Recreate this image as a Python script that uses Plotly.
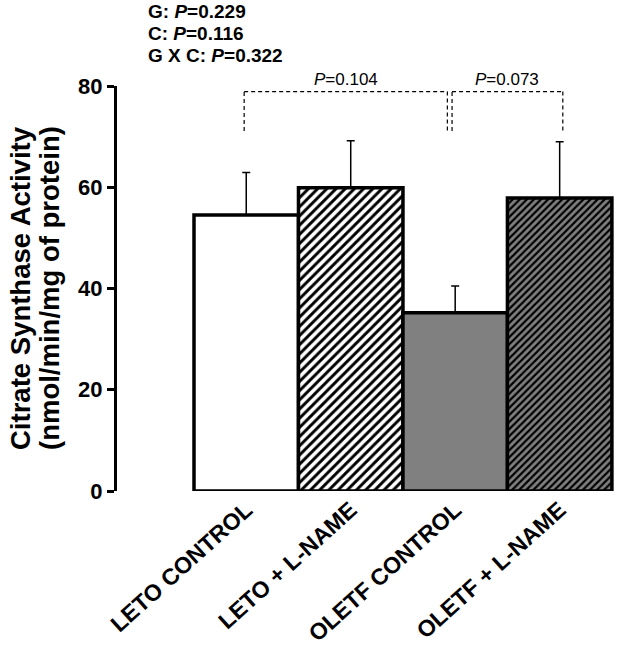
import plotly.graph_objects as go

categories = ["LETO CONTROL", "LETO + L-NAME", "OLETF CONTROL", "OLETF + L-NAME"]
means = [54.5, 59.9, 35.2, 57.9]
sems = [8.4, 9.3, 5.3, 11.1]

y_ticks = [0, 20, 40, 60, 80]
stats_lines = ["G: <i>P</i>=0.229", "C: <i>P</i>=0.116", "G X C: <i>P</i>=0.322"]

# bracket comparisons: (from index, to index, label)
brackets = [(0, 2, "<i>P</i>=0.104"), (2, 3, "<i>P</i>=0.073")]
bracket_top = 78.9
bracket_bottom = 71.1

# styles per bar
fills = ["white", "white", "#808080", "#808080"]
hatch = ["", "/", "", "/"]
hatch_size = [7, 6.5, 7, 5]

FONT = "Arial, Liberation Sans, sans-serif"
xpos = list(range(len(categories)))

W, H = 617, 650
L, T, R = 117, 86, 3
B = H - 491
pw, ph = W - L - R, H - T - B


def px_x(xp):
    return (xp - L) / pw


def px_y(yp):
    return (H - B - yp) / ph


fig = go.Figure()
for i in xpos:
    fig.add_trace(go.Bar(
        x=[i], y=[means[i]], width=1.0,
        marker=dict(
            color=fills[i],
            line=dict(color="black", width=3.5),
            pattern=dict(shape=hatch[i], fgcolor="black", bgcolor=fills[i],
                         size=hatch_size[i], solidity=0.45, fillmode="replace"),
        ),
        error_y=dict(type="data", symmetric=False, array=[sems[i]],
                     arrayminus=[0], color="black", thickness=1.5, width=4),
        showlegend=False,
    ))

# dashed comparison brackets
ends = [(-0.02, -0.075), (-0.03, 0.03)]
for (a, b, lab), (da, db) in zip(brackets, ends):
    xa, xb = a + da, b + db
    for (x0, y0, x1, y1) in [(xa, bracket_bottom, xa, bracket_top),
                             (xa, bracket_top, xb, bracket_top),
                             (xb, bracket_top, xb, bracket_bottom)]:
        fig.add_shape(type="line", xref="x", yref="y", x0=x0, y0=y0, x1=x1, y1=y1,
                      line=dict(color="black", width=1.2, dash="4px,3px"))
    fig.add_annotation(x=(xa + xb) / 2, y=bracket_top, xref="x", yref="y",
                       text=lab, showarrow=False, yanchor="bottom", yshift=1,
                       font=dict(family=FONT, size=17, color="black"))

# statistics text at top-left
for k, s in enumerate(stats_lines):
    fig.add_annotation(x=px_x(146), y=px_y(11 + 22.5 * k), xref="paper", yref="paper",
                       text=s, showarrow=False, xanchor="left", yanchor="middle",
                       font=dict(family=FONT, size=19, color="black", weight="bold"))

# y-axis title as two rotated lines
for k, s in enumerate(["Citrate Synthase Activity", "(nmol/min/mg of protein)"]):
    fig.add_annotation(x=px_x(20 + 29 * k), y=px_y(288), xref="paper", yref="paper",
                       text=s, showarrow=False, textangle=-90,
                       xanchor="center", yanchor="middle",
                       font=dict(family=FONT, size=27.5, color="black", weight="bold"))

fig.update_layout(
    width=W, height=H,
    margin=dict(l=L, r=R, t=T, b=B, autoexpand=False),
    plot_bgcolor="white", paper_bgcolor="white",
    barmode="overlay",
    font=dict(family=FONT, color="black"),
    xaxis=dict(range=[-1.237, 3.52], tickvals=xpos, ticktext=categories,
               tickangle=-42, showgrid=False, zeroline=False, showline=False,
               ticks="", tickfont=dict(family=FONT, size=23, weight="bold")),
    yaxis=dict(range=[0, 80], tickvals=y_ticks, showgrid=False, zeroline=False,
               showline=True, linecolor="black", linewidth=3,
               ticks="outside", ticklen=7, tickwidth=3, tickcolor="black",
               tickfont=dict(family=FONT, size=22, weight="bold")),
)

fig.write_html("out.html", config={"displayModeBar": False},
               post_script="document.body.style.margin='0px';document.body.style.padding='0px';")
